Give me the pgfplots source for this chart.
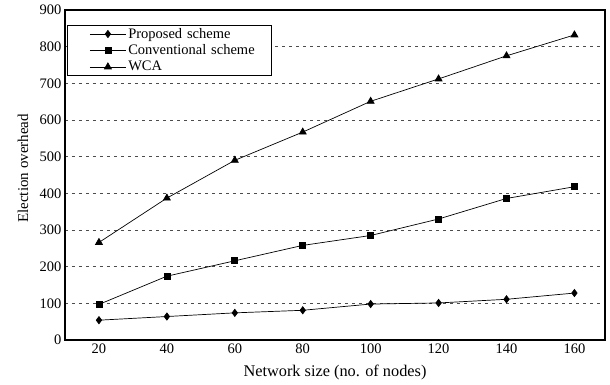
\documentclass[border=0pt]{standalone}
\usepackage{pgfplots}
\pgfplotsset{compat=1.18}
\usepackage{fontspec}
\setmainfont{Liberation Serif}
\begin{document}
\begin{tikzpicture}
\begin{axis}[
  scale only axis,
  width=540pt, height=330pt,
  xmin=10, xmax=169,
  ymin=0, ymax=900,
  xtick={20,40,...,160},
  ytick={0,100,...,900},
  axis line style={line width=2pt},
  tick style={draw=none},
  ymajorgrids,
  grid style={dash pattern=on 3pt off 4pt, gray!60!black, line width=0.6pt},
  /pgf/number format/assume math mode=true,
  ticklabel style={font=\fontsize{14.5}{16}\selectfont},
  xlabel={Network size (no. of nodes)},
  ylabel={Election overhead},
  xlabel style={font=\fontsize{16.3}{18}\selectfont, at={(axis description cs:0.5,-0.1)}, anchor=center},
  ylabel style={font=\fontsize{15}{17}\selectfont, at={(axis description cs:-0.078,0.52)}, anchor=center},
  legend style={at={(0.004,0.955)}, anchor=north west, draw=black, line width=0.8pt,
    font=\fontsize{14.5}{17}\selectfont, row sep=1pt, inner xsep=10pt, inner ysep=1pt,
    text width=131pt},
  legend cell align=left,
  legend image code/.code={\path (0pt,0pt); \draw[mark repeat=2,mark phase=2] plot coordinates {(12pt,0pt)(30pt,0pt)(48pt,0pt)};},
  every axis plot/.append style={black, line width=0.7pt},
]
\addplot[mark=diamond*, mark size=3.6pt] coordinates {
 (20,54) (40,64) (60,74) (80,81) (100,98) (120,101) (140,111) (160,128)};
\addlegendentry{Proposed scheme}
\addplot[mark=square*, mark size=3pt] coordinates {
 (20,97) (40,174) (60,216) (80,258) (100,285) (120,330) (140,386) (160,418)};
\addlegendentry{Conventional scheme}
\addplot[mark=triangle*, mark size=4pt] coordinates {
 (20,266) (40,387) (60,490) (80,567) (100,651) (120,712) (140,775) (160,832)};
\addlegendentry{WCA}
\end{axis}
\pgfresetboundingbox
\path[use as bounding box] ([xshift=-65pt,yshift=-45pt]current axis.south west) rectangle ([xshift=5pt,yshift=10pt]current axis.north east);
\end{tikzpicture}
\end{document}
